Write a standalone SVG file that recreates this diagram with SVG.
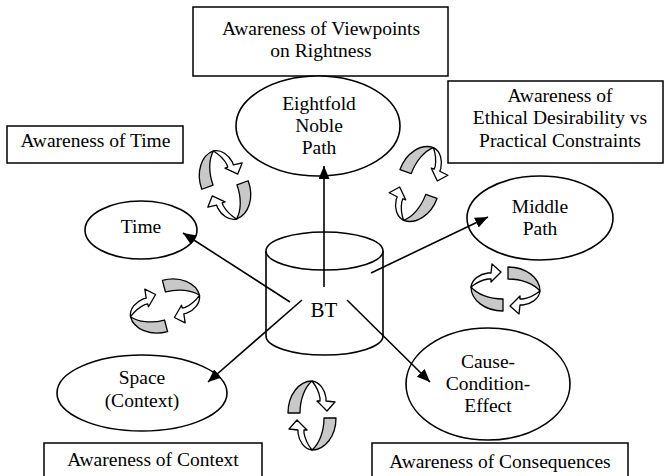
<svg xmlns="http://www.w3.org/2000/svg" xmlns:xlink="http://www.w3.org/1999/xlink" width="664" height="476" viewBox="0 0 664 476">
<style>
text{font-family:"Liberation Serif","Times New Roman",serif;font-size:19.5px;fill:#000;text-anchor:middle}
.box{fill:#fff;stroke:#000;stroke-width:1.5}
.node{fill:#fff;stroke:#000;stroke-width:1.6}
.conn{stroke:#000;stroke-width:1.6;fill:none}
.g{fill:#c8c8c8;stroke:#000;stroke-width:1.3;stroke-linejoin:round}
.w{fill:#fff;stroke:#000;stroke-width:1.3;stroke-linejoin:round}
</style>
<defs>
<marker id="ah" markerUnits="userSpaceOnUse" markerWidth="14" markerHeight="12" refX="13" refY="5.5" orient="auto">
<path d="M0,0 L13,5.5 L0,11 Z" fill="#000"/>
</marker>
<g id="cyc">
<path class="w" d="M1,-22 C9,-21 14,-13 15,-5 L15,-2 L24,-1 L16,8 L6,-2 L9,-2 L9,-5 C8,-11 5,-17 1,-22 Z"/>
<path class="g" d="M-23,10 C-23,-8 -12,-22 1,-22 C-6,-16 -11,-4 -11,10 Z"/>
</g>
</defs>
<rect width="664" height="476" fill="#fff"/>

<g id="box-viewpoints"><rect class="box" x="193" y="7" width="255" height="69"/><text x="321" y="35">Awareness of Viewpoints</text><text x="321" y="57">on Rightness</text></g>
<g id="box-time"><rect class="box" x="7" y="126" width="176" height="37"/><text x="95.5" y="147">Awareness of Time</text></g>
<g id="box-ethical"><rect class="box" x="448" y="81" width="215" height="82"/><text x="560" y="102">Awareness of</text><text x="560" y="124">Ethical Desirability vs</text><text x="560" y="147">Practical Constraints</text></g>
<g id="box-context"><rect class="box" x="44" y="443" width="218" height="40"/><text x="153" y="466">Awareness of Context</text></g>
<g id="box-consequences"><rect class="box" x="372" y="443" width="256" height="40"/><text x="500" y="468">Awareness of Consequences</text></g>

<g id="node-eightfold"><ellipse class="node" cx="318" cy="126" rx="82" ry="50"/><text x="319" y="110">Eightfold</text><text x="319" y="132">Noble</text><text x="319" y="154">Path</text></g>
<g id="node-time"><ellipse class="node" cx="141" cy="230" rx="56" ry="29"/><text x="141" y="233">Time</text></g>
<g id="node-middle"><ellipse class="node" cx="540" cy="218" rx="73" ry="42"/><text x="540" y="213">Middle</text><text x="540" y="235">Path</text></g>
<g id="node-space"><ellipse class="node" cx="142" cy="393" rx="85" ry="38"/><text x="142" y="384">Space</text><text x="142" y="407">(Context)</text></g>
<g id="node-cause"><ellipse class="node" cx="488" cy="384" rx="82" ry="56"/><text x="488" y="368">Cause-</text><text x="488" y="390">Condition-</text><text x="488" y="412">Effect</text></g>
<g id="node-bt">
<path class="node" d="M266,251 L266,336 A58.5,19 0 0 0 383,336 L383,251"/>
<ellipse class="node" cx="324.5" cy="251" rx="58.5" ry="19"/>
<text x="324" y="317" style="font-size:21px">BT</text>
</g>

<g id="connectors">
<line class="conn" x1="324" y1="287" x2="324" y2="166" marker-end="url(#ah)"/>
<line class="conn" x1="290" y1="302" x2="183" y2="233" marker-end="url(#ah)"/>
<line class="conn" x1="371" y1="273" x2="488" y2="217" marker-end="url(#ah)"/>
<line class="conn" x1="302" y1="300" x2="208" y2="382" marker-end="url(#ah)"/>
<line class="conn" x1="347" y1="300" x2="430" y2="382" marker-end="url(#ah)"/>
</g>

<g id="cycles">
<use xlink:href="#cyc" transform="translate(220,172) rotate(-20)"/>
<use xlink:href="#cyc" transform="translate(230,198) rotate(160)"/>
<use xlink:href="#cyc" transform="translate(425,168) rotate(20)"/>
<use xlink:href="#cyc" transform="translate(412,200) rotate(200)"/>
<use xlink:href="#cyc" transform="translate(178,300) rotate(75)"/>
<use xlink:href="#cyc" transform="translate(152,312) rotate(-105)"/>
<use xlink:href="#cyc" transform="translate(493,288) rotate(-90)"/>
<use xlink:href="#cyc" transform="translate(518,290) rotate(90)"/>
<use xlink:href="#cyc" transform="translate(311,403)"/>
<use xlink:href="#cyc" transform="translate(313,428) rotate(180)"/>
</g>
</svg>
